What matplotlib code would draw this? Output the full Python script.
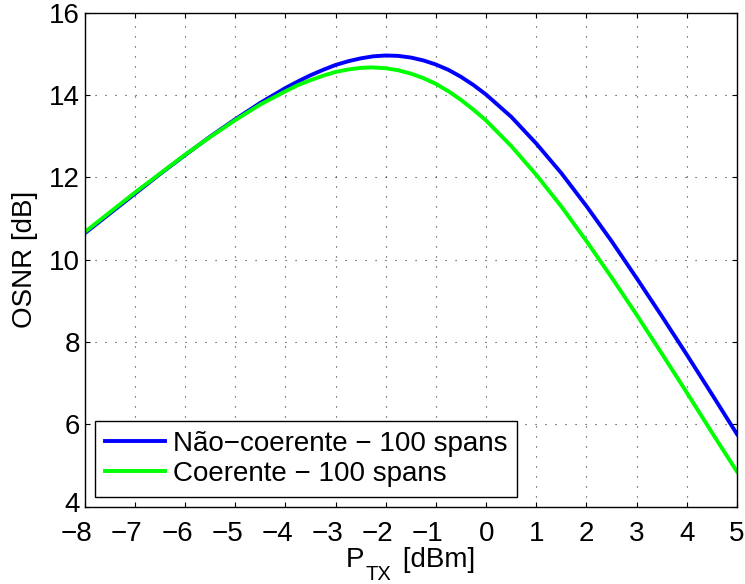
import matplotlib
matplotlib.use("Agg")
import matplotlib.pyplot as plt
import matplotlib.transforms as mtransforms

plt.rcParams['font.family'] = ['Liberation Sans', 'DejaVu Sans']

# Transmitted power (dBm)
p_tx = [-8.0, -7.5, -7.0, -6.5, -6.0, -5.5, -5.0, -4.5, -4.0, -3.75, -3.5, -3.25, -3.0,
        -2.75, -2.5, -2.25, -2.0, -1.75, -1.5, -1.25, -1.0, -0.75, -0.5, -0.25, 0.0,
        0.5, 1.0, 1.5, 2.0, 2.5, 3.0, 3.5, 4.0, 4.5, 5.0]

# OSNR (dB)
osnr_nao_coerente = [10.64, 11.12, 11.60, 12.08, 12.54, 12.99, 13.41, 13.81, 14.17, 14.33,
                     14.48, 14.61, 14.73, 14.82, 14.89, 14.94, 14.96, 14.95, 14.91, 14.84,
                     14.74, 14.61, 14.44, 14.24, 14.01, 13.47, 12.82, 12.10, 11.30, 10.45,
                     9.55, 8.63, 7.69, 6.73, 5.76]
osnr_coerente = [10.67, 11.15, 11.63, 12.09, 12.55, 12.98, 13.39, 13.77, 14.09, 14.24,
                 14.36, 14.47, 14.56, 14.62, 14.66, 14.67, 14.65, 14.60, 14.52, 14.41,
                 14.27, 14.09, 13.88, 13.64, 13.38, 12.76, 12.06, 11.29, 10.45, 9.57,
                 8.66, 7.72, 6.77, 5.80, 4.85]

labels = ['Não−coerente − 100 spans', 'Coerente − 100 spans']
x_ticks = list(range(-8, 6))
y_ticks = [4, 6, 8, 10, 12, 14, 16]

fs = 20
W, H = 745, 584

fig = plt.figure(figsize=(W / 100, H / 100), dpi=100)
ax = fig.add_axes([0.1137, 0.1324, 0.8756, 0.8459])

ax.plot(p_tx, osnr_nao_coerente, color=(0, 0, 1), lw=2.8, label=labels[0])
ax.plot(p_tx, osnr_coerente, color=(0, 1, 0), lw=2.8, label=labels[1])

ax.set_xlim(-8, 5)
ax.set_ylim(4, 16)
ax.set_xticks(x_ticks)
ax.set_yticks(y_ticks)

# MATLAB-like look: dotted grid, inward ticks on all sides
ax.grid(True, linestyle=(0, (1, 8)), color='0.2', linewidth=0.8)
ax.tick_params(direction='in', top=True, right=True, length=3.6, width=0.8,
               labelsize=fs)
ax.tick_params(axis='x', pad=10.5)
ax.tick_params(axis='y', pad=3.5)
for s in ax.spines.values():
    s.set_linewidth(1.0)

ax.set_ylabel('OSNR [dB]', fontsize=fs, labelpad=8)

# x label with a MATLAB-style (big, low) subscript
fig.text(346 / W, 1 - 567 / H, 'P', fontsize=fs, ha='left', va='baseline')
fig.text(366 / W, 1 - 580 / H, 'TX', fontsize=14.5, ha='left', va='baseline')
fig.text(395 / W, 1 - 567 / H, ' [dBm]', fontsize=fs, ha='left', va='baseline')

leg = ax.legend(loc='lower left', bbox_to_anchor=(0.016, 0.02), fontsize=fs,
                fancybox=False, framealpha=1, edgecolor='black',
                handlelength=2.15, handletextpad=0.3, borderpad=0.35,
                labelspacing=0.15, borderaxespad=0)
leg.get_frame().set_linewidth(1.0)

# MATLAB centres the digits of negative labels on the tick, the minus hangs left
shift = mtransforms.ScaledTranslation(-8 / 100, 0, fig.dpi_scale_trans)
for val, lab in zip(x_ticks, ax.get_xticklabels()):
    if val < 0:
        lab.set_transform(lab.get_transform() + shift)

# nudge the bottom y label up a little so it clears the corner x label
lift = mtransforms.ScaledTranslation(0, 5 / 100, fig.dpi_scale_trans)
first_y = ax.get_yticklabels()[0]
first_y.set_transform(first_y.get_transform() + lift)

fig.savefig('out.png', dpi=100)
